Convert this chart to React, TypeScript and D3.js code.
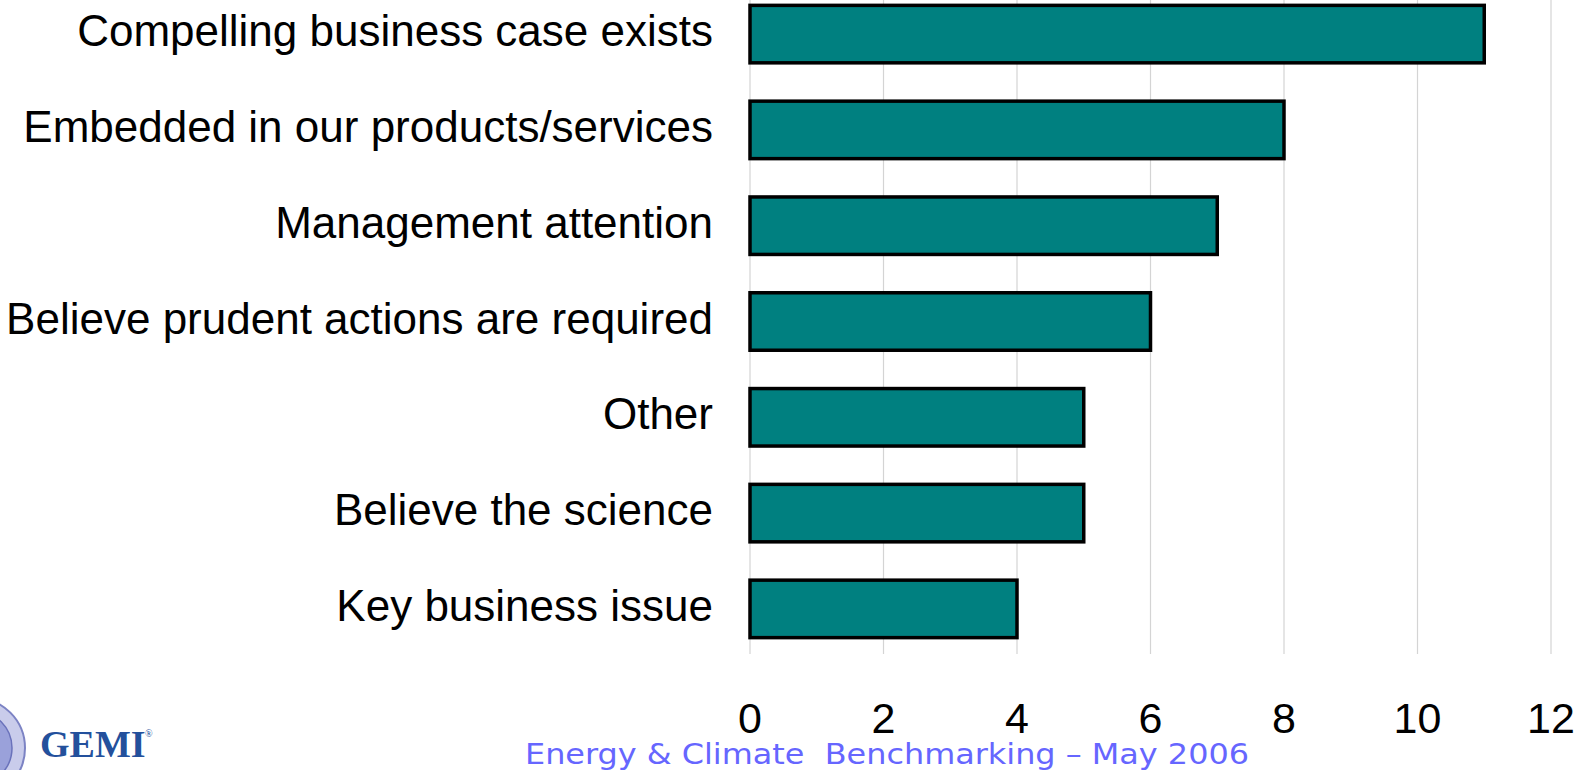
import React from "react";
import * as d3 from "d3";

// Survey responses: drivers behind climate action
const categories = [
  "Compelling business case exists",
  "Embedded in our products/services",
  "Management attention",
  "Believe prudent actions are required",
  "Other",
  "Believe the science",
  "Key business issue",
];
const counts = [11, 8, 7, 6, 5, 5, 4];
const xTicks = [0, 2, 4, 6, 8, 10, 12];
const footerText = "Energy & Climate  Benchmarking \u2013 May 2006";
const logoText = "GEMI";

const W = 1583;
const H = 770;

export default function App() {
  const x = d3.scaleLinear().domain([0, 12]).range([750, 1551]);
  const y = d3
    .scaleBand<string>()
    .domain(categories)
    .range([-13.8, 656.8])
    .paddingInner(0.4)
    .paddingOuter(0.2);

  const labelFont = "'Liberation Sans', Arial, sans-serif";

  return (
    <svg
      width={W}
      height={H}
      viewBox={`0 0 ${W} ${H}`}
      style={{ position: "absolute", left: 0, top: 0, background: "#fff" }}
    >
      {/* vertical gridlines */}
      <g>
        {xTicks.map((t) => (
          <line
            key={t}
            x1={x(t)}
            x2={x(t)}
            y1={0}
            y2={654}
            stroke="#d4d4d4"
            strokeWidth={1.2}
          />
        ))}
      </g>

      {/* bars */}
      <g>
        {categories.map((c, i) => (
          <rect
            key={c}
            x={x(0)}
            y={y(c)!}
            width={x(counts[i]) - x(0)}
            height={y.bandwidth()}
            fill="#008080"
            stroke="#000"
            strokeWidth={3.5}
          />
        ))}
      </g>

      {/* category labels */}
      <g fontFamily={labelFont} fontSize={44} fill="#000" textAnchor="end">
        {categories.map((c) => (
          <text key={c} x={713} y={y(c)! + y.bandwidth() / 2 + 12}>
            {c}
          </text>
        ))}
      </g>

      {/* x tick labels */}
      <g fontFamily={labelFont} fontSize={43} fill="#000" textAnchor="middle">
        {xTicks.map((t) => (
          <text key={t} x={x(t)} y={733}>
            {t}
          </text>
        ))}
      </g>

      {/* footer */}
      <text
        x={525}
        y={764}
        fontFamily="Verdana, 'DejaVu Sans', sans-serif"
        fontSize={29}
        fill="#6666ff"
        textLength={724}
        lengthAdjust="spacingAndGlyphs"
        style={{ whiteSpace: "pre" }}
      >
        {footerText}
      </text>

      {/* logo */}
      <g>
        <circle cx={-25} cy={748} r={50} fill="#c9cceb" stroke="#7c83c4" strokeWidth={2} />
        <circle cx={-25} cy={748} r={37} fill="#9aa1da" stroke="#6a72bb" strokeWidth={1.5} />
        <text
          x={40}
          y={757}
          fontFamily="'Liberation Serif', 'Times New Roman', serif"
          fontWeight="bold"
          fontSize={38}
          fill="#23509c"
        >
          {logoText}
        </text>
        <text
          x={145}
          y={737}
          fontFamily="'Liberation Serif', 'Times New Roman', serif"
          fontSize={10}
          fill="#23509c"
        >
          ®
        </text>
      </g>
    </svg>
  );
}
